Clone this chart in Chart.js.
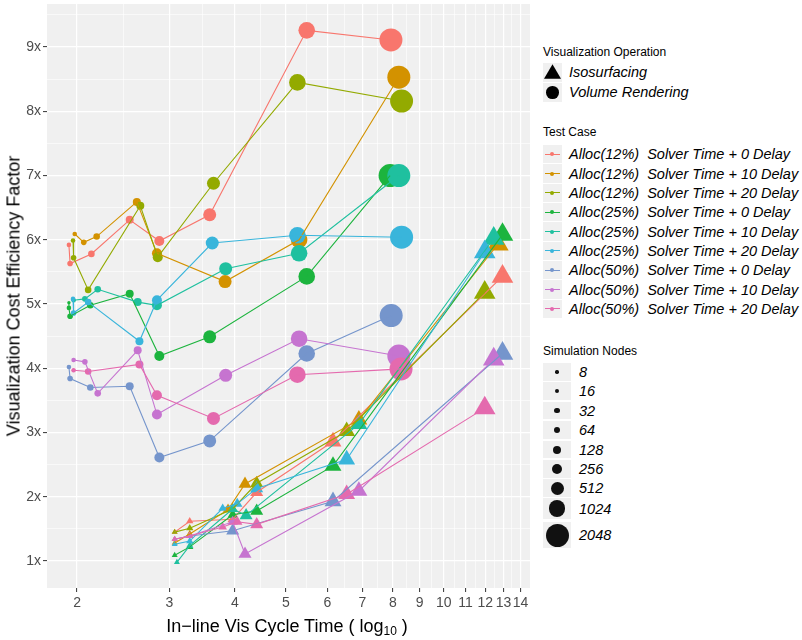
<!DOCTYPE html>
<html>
<head>
<meta charset="utf-8">
<script src="https://cdn.jsdelivr.net/npm/chart.js@4.4.1/dist/chart.umd.min.js"></script>
<style>
  body { margin: 0; width: 802px; height: 640px; background: #fff; position: relative; overflow: hidden;
         font-family: "Liberation Sans", Arial, Helvetica, sans-serif; color: #000; }
  #wrap { position: absolute; left: 0; top: 0; width: 535px; height: 640px; }
  .ytitle { position: absolute; left: 14px; top: 296px; transform: translate(-50%, -50%) rotate(-90deg);
            font-size: 18px; white-space: nowrap; }
  .xtitle { position: absolute; left: 287px; top: 627px; transform: translate(-50%, -50%);
            font-size: 18px; white-space: nowrap; }
  .xtitle sub { font-size: 12px; vertical-align: -3px; }
  .lg-title { position: absolute; left: 543px; font-size: 12px; line-height: 14px; white-space: nowrap; }
  .lg-key { position: absolute; background: #F0F0F0; }
  .lg-label { position: absolute; font-size: 14.5px; font-style: italic; white-space: pre; }
  .glyph { position: absolute; }
</style>
</head>
<body>
<div id="wrap"><canvas id="chart" width="535" height="640"></canvas></div>
<div class="ytitle">Visualization Cost Efficiency Factor</div>
<div class="xtitle">In−line Vis Cycle Time ( log<sub>10</sub> )</div>
<div id="legend"></div>
<script>
// Test cases (colour groups)
const testCases = [
    'Alloc(12%)  Solver Time + 0 Delay',
    'Alloc(12%)  Solver Time + 10 Delay',
    'Alloc(12%)  Solver Time + 20 Delay',
    'Alloc(25%)  Solver Time + 0 Delay',
    'Alloc(25%)  Solver Time + 10 Delay',
    'Alloc(25%)  Solver Time + 20 Delay',
    'Alloc(50%)  Solver Time + 0 Delay',
    'Alloc(50%)  Solver Time + 10 Delay',
    'Alloc(50%)  Solver Time + 20 Delay'
];
const operations = ['Isosurfacing', 'Volume Rendering'];
const nodeLevels = [8, 16, 32, 64, 128, 256, 512, 1024, 2048];

// Volume rendering: cycle time (x), efficiency (y), simulation nodes
const volX = [
    [1.93, 1.94, 2.13, 2.52, 2.87, 3.58, 5.48, 7.93],
    [1.98, 2.06, 2.18, 2.60, 2.84, 3.83, 5.30, 8.21],
    [1.965, 1.97, 2.10, 2.64, 2.85, 3.64, 5.26, 8.31],
    [1.93, 1.93, 1.94, 2.12, 2.52, 2.87, 3.58, 5.48, 7.90],
    [1.97, 2.07, 2.19, 2.61, 2.84, 3.84, 5.30, 8.21],
    [1.965, 1.97, 2.10, 2.63, 2.84, 3.62, 5.26, 8.31],
    [1.93, 1.94, 2.12, 2.52, 2.87, 3.58, 5.48, 7.94],
    [1.97, 2.07, 2.19, 2.61, 2.84, 3.84, 5.30, 8.21],
    [1.97, 2.10, 2.63, 2.84, 3.64, 5.26, 8.29]
];
const volY = [
    [5.92, 5.63, 5.78, 6.31, 5.98, 6.39, 9.26, 9.11],
    [6.09, 5.96, 6.05, 6.59, 5.79, 5.35, 6.00, 8.53],
    [5.99, 5.72, 5.22, 6.53, 5.73, 6.88, 8.45, 8.16],
    [5.02, 4.94, 4.81, 4.98, 5.16, 4.19, 4.49, 5.43, 7.00],
    [5.06, 5.08, 5.23, 5.03, 4.98, 5.55, 5.79, 7.00],
    [5.08, 4.86, 5.03, 4.42, 5.06, 5.95, 6.07, 6.04],
    [4.02, 3.84, 3.70, 3.72, 2.61, 2.87, 4.23, 4.82],
    [4.13, 4.10, 3.61, 4.28, 3.28, 3.89, 4.46, 4.19],
    [3.97, 3.95, 4.06, 3.58, 3.22, 3.90, 3.99]
];
const volNodes = [
    [16, 32, 64, 128, 256, 512, 1024, 2048],
    [16, 32, 64, 128, 256, 512, 1024, 2048],
    [16, 32, 64, 128, 256, 512, 1024, 2048],
    [8, 16, 32, 64, 128, 256, 512, 1024, 2048],
    [16, 32, 64, 128, 256, 512, 1024, 2048],
    [16, 32, 64, 128, 256, 512, 1024, 2048],
    [16, 32, 64, 128, 256, 512, 1024, 2048],
    [16, 32, 64, 128, 256, 512, 1024, 2048],
    [16, 64, 128, 256, 512, 1024, 2048]
];

// Isosurfacing
const isoX = [
    [3.07, 3.28, 3.96, 4.40, 6.15, 12.94],
    [3.07, 3.28, 3.88, 4.18, 6.89, 12.68],
    [3.07, 3.28, 3.96, 4.40, 6.53, 11.97],
    [3.07, 3.28, 3.96, 4.40, 6.15, 12.94],
    [3.10, 3.28, 3.96, 4.20, 6.89, 12.45],
    [3.07, 3.28, 3.79, 4.04, 4.40, 6.53, 11.97],
    [3.07, 3.28, 3.96, 6.15, 12.94],
    [3.07, 3.28, 3.96, 4.18, 6.89, 12.45],
    [3.07, 3.28, 3.79, 4.04, 4.40, 6.53, 11.97]
];
const isoY = [
    [1.45, 1.62, 1.65, 2.07, 2.86, 5.43],
    [1.28, 1.42, 1.80, 2.20, 3.20, 5.93],
    [1.45, 1.51, 1.81, 2.21, 3.02, 5.18],
    [1.09, 1.22, 1.72, 1.78, 2.48, 6.08],
    [0.98, 1.24, 1.81, 1.71, 3.13, 6.02],
    [1.26, 1.31, 1.82, 1.89, 2.13, 2.58, 5.81],
    [1.34, 1.39, 1.47, 1.93, 4.23],
    [1.34, 1.39, 1.61, 1.11, 2.09, 4.14],
    [1.34, 1.39, 1.53, 1.61, 1.57, 2.04, 3.38]
];
const isoNodes = [
    [16, 32, 128, 256, 512, 1024],
    [16, 32, 128, 256, 512, 1024],
    [16, 32, 128, 256, 512, 1024],
    [16, 32, 128, 256, 512, 1024],
    [16, 32, 128, 256, 512, 1024],
    [16, 32, 64, 128, 256, 512, 1024],
    [16, 32, 256, 512, 1024],
    [16, 32, 128, 256, 512, 1024],
    [16, 32, 64, 128, 256, 512, 1024]
];

// Axis breaks
const xMajor = [2, 3, 4, 5, 6, 7, 8, 9, 10, 11, 12, 13, 14];
const yMajor = [1, 2, 3, 4, 5, 6, 7, 8, 9];

// Styles
const colors = ['#F8766D', '#D39200', '#93AA00', '#1CB43E', '#1FC09F', '#39B5DB', '#7595CC', '#C674D0', '#E46AAE'];
const radiusByNodes = { 8: 1.7, 16: 2.3, 32: 2.8, 64: 3.3, 128: 4, 256: 5, 512: 6.5, 1024: 8.3, 2048: 11.5 };
const FONT = '"Liberation Sans", Arial, Helvetica, sans-serif';

// minor breaks halfway (in log space) between majors
const xMinor = xMajor.slice(0, -1).map((v, i) => Math.sqrt(v * xMajor[i + 1]));
const yMinor = yMajor.map(v => v + 0.5);
const xTicks = xMajor.concat(xMinor).sort((a, b) => a - b);
const yTicks = yMajor.concat(yMinor).sort((a, b) => a - b);

const toPoints = (xs, ys) => xs.map((x, i) => ({ x, y: ys[i] }));

// points first, lines on top
const drawList = [];
testCases.forEach((name, i) => {
    drawList.push({
        data: toPoints(volX[i], volY[i]), showLine: false,
        pointStyle: 'circle', backgroundColor: colors[i], borderWidth: 0,
        pointRadius: volNodes[i].map(n => radiusByNodes[n]),
        pointHoverRadius: volNodes[i].map(n => radiusByNodes[n])
    });
    drawList.push({
        data: toPoints(isoX[i], isoY[i]), showLine: false,
        pointStyle: 'triangle', backgroundColor: colors[i], borderWidth: 0,
        pointRadius: isoNodes[i].map(n => radiusByNodes[n] * 1.5),
        pointHoverRadius: isoNodes[i].map(n => radiusByNodes[n] * 1.5)
    });
});
testCases.forEach((name, i) => {
    [[volX, volY], [isoX, isoY]].forEach(([xs, ys]) => {
        drawList.push({
            data: toPoints(xs[i], ys[i]), showLine: true,
            borderColor: colors[i], borderWidth: 1.1, pointRadius: 0, pointHoverRadius: 0
        });
    });
});
const datasets = drawList.map((d, i) => Object.assign({ order: drawList.length - i }, d));

const panelBg = {
    id: 'panelBg',
    beforeDraw(chart) {
        const { ctx, chartArea: a } = chart;
        ctx.save();
        ctx.fillStyle = '#F0F0F0';
        ctx.fillRect(a.left, a.top, a.right - a.left, a.bottom - a.top);
        ctx.restore();
    }
};

const gridOpts = (isMajor) => ({
    color: '#FFFFFF',
    lineWidth: c => isMajor(c.tick.value) ? 1.2 : 0.6,
    drawTicks: true,
    tickLength: 4,
    tickWidth: 1,
    tickColor: c => isMajor(c.tick.value) ? '#333333' : 'rgba(0,0,0,0)'
});

// panel is fixed at 47..530 x 4..588
new Chart(document.getElementById('chart').getContext('2d'), {
    type: 'scatter',
    data: { datasets },
    options: {
        responsive: false,
        devicePixelRatio: 1,
        animation: false,
        events: [],
        layout: { autoPadding: false, padding: { top: 4, right: 5, left: 0, bottom: 0 } },
        plugins: { legend: { display: false }, tooltip: { enabled: false } },
        scales: {
            x: {
                type: 'logarithmic', min: 1.753, max: 14.6,
                afterBuildTicks: s => { s.ticks = xTicks.map(v => ({ value: v })); },
                afterFit: s => { s.height = 52; s.paddingLeft = 0; s.paddingRight = 0; },
                border: { display: false },
                grid: gridOpts(v => xMajor.includes(v)),
                ticks: {
                    autoSkip: false, maxRotation: 0, minRotation: 0, padding: 3,
                    color: '#4D4D4D', font: { family: FONT, size: 14 },
                    callback: v => xMajor.includes(v) ? String(v) : ''
                }
            },
            y: {
                type: 'linear', min: 0.58, max: 9.67,
                afterBuildTicks: s => { s.ticks = yTicks.map(v => ({ value: v })); },
                afterFit: s => { s.width = 47; s.paddingTop = 0; s.paddingBottom = 0; },
                border: { display: false },
                grid: gridOpts(v => yMajor.includes(v)),
                ticks: {
                    padding: 2, color: '#4D4D4D', font: { family: FONT, size: 14 },
                    callback: v => yMajor.includes(v) ? v + 'x' : ''
                }
            }
        }
    },
    plugins: [panelBg]
});

// Legend
const legend = document.getElementById('legend');
function el(cls, css, html) {
    const d = document.createElement('div');
    d.className = cls;
    Object.assign(d.style, css);
    if (html !== undefined) d.textContent = html;
    legend.appendChild(d);
    return d;
}
function title(text, cy) { el('lg-title', { top: (cy - 7) + 'px' }, text); }
function label(text, left, cy) { el('lg-label', { left: left + 'px', top: (cy - 9) + 'px', lineHeight: '18px' }, text); }

// Visualization Operation
title('Visualization Operation', 51.7);
const opRows = [72.3, 92.3];
operations.forEach((op, i) => {
    const cy = opRows[i];
    el('lg-key', { left: '543px', top: (cy - 9.5) + 'px', width: '19px', height: '19px' });
    if (i === 0) {
        el('glyph', { left: '544px', top: (cy - 8) + 'px', width: '17px', height: '14.5px', background: '#000',
            clipPath: 'polygon(50% 0, 100% 100%, 0 100%)' });
    } else {
        el('glyph', { left: (552.5 - 6.3) + 'px', top: (cy - 6.3) + 'px', width: '12.6px', height: '12.6px',
            background: '#000', borderRadius: '50%' });
    }
    label(op, 569, cy);
});

// Test Case
title('Test Case', 132);
testCases.forEach((name, i) => {
    const cy = 154.3 + i * 19.33;
    el('lg-key', { left: '543px', top: (cy - 9.2) + 'px', width: '18.5px', height: '18.4px' });
    el('glyph', { left: '544.5px', top: (cy - 0.5) + 'px', width: '15.5px', height: '1px', background: colors[i] });
    el('glyph', { left: (552.2 - 2.1) + 'px', top: (cy - 2.1) + 'px', width: '4.2px', height: '4.2px',
        background: colors[i], borderRadius: '50%' });
    label(name, 569, cy);
});

// Simulation Nodes
title('Simulation Nodes', 350.7);
const nodeRows = [[363.3, 380.7], [382.3, 400], [401.7, 419.3], [421, 438.7], [440.7, 458.3],
                  [460, 477.7], [479.3, 496.7], [498.3, 519], [521.7, 548.3]];
nodeLevels.forEach((n, i) => {
    const [t, b] = nodeRows[i];
    const cy = (t + b) / 2;
    const r = radiusByNodes[n];
    el('lg-key', { left: '543.3px', top: t + 'px', width: '27.7px', height: (b - t) + 'px' });
    el('glyph', { left: (557.1 - r) + 'px', top: (cy - r) + 'px', width: 2 * r + 'px', height: 2 * r + 'px',
        background: '#111', borderRadius: '50%' });
    label(String(n), 579, cy);
});
</script>
</body>
</html>
